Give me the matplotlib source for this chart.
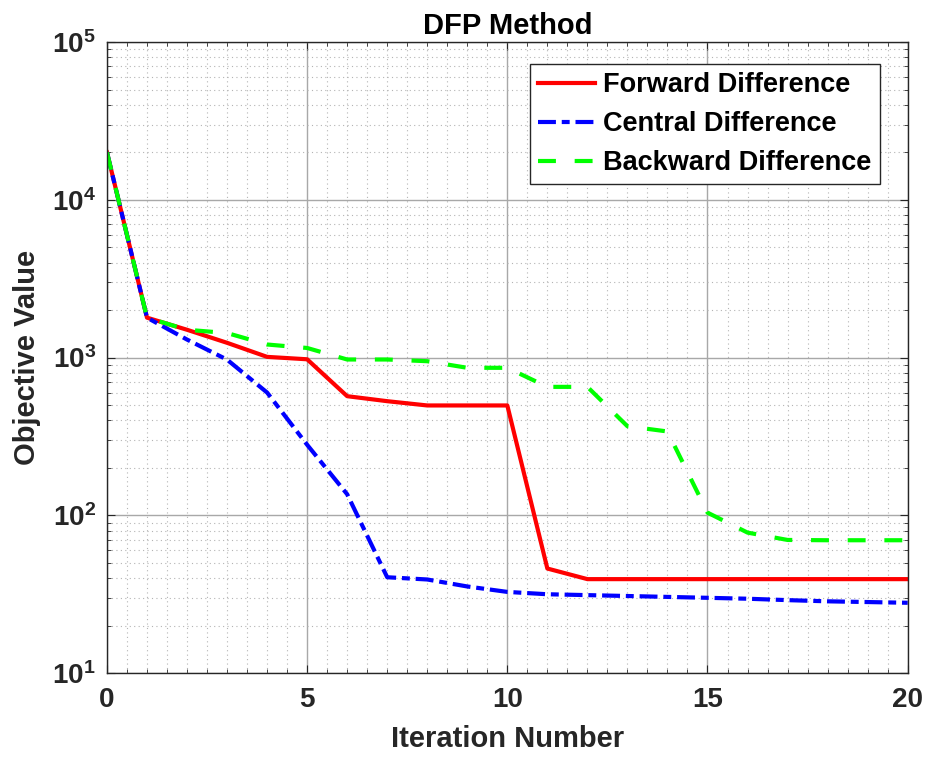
import numpy as np
import matplotlib
matplotlib.use("Agg")
import matplotlib.pyplot as plt
from matplotlib.ticker import LogLocator, MultipleLocator, FuncFormatter, NullFormatter

plt.rcParams['font.family'] = ['Liberation Sans', 'DejaVu Sans']
plt.rcParams['font.weight'] = 'bold'
plt.rcParams['mathtext.fontset'] = 'custom'
plt.rcParams['mathtext.rm'] = 'Liberation Sans:bold'
plt.rcParams['mathtext.bf'] = 'Liberation Sans:bold'

iterations = np.arange(0, 21)
forward = [20000, 1790, 1500, 1240, 1010, 975, 569, 529, 497, 497, 497,
           46, 39.4, 39.4, 39.4, 39.4, 39.4, 39.4, 39.4, 39.4, 39.4]
central = [20000, 1790, 1300, 970, 600, 280, 136, 40.5, 39.2, 35.4, 32.7,
           31.6, 31.2, 30.8, 30.4, 30.0, 29.6, 29.0, 28.5, 28.2, 27.9]
backward = [20000, 1790, 1500, 1430, 1210, 1150, 972, 972, 948, 861, 861,
            652, 652, 367, 340, 104, 77.7, 69.8, 69.5, 69.5, 69.5]

fig = plt.figure(figsize=(9.3, 7.64), dpi=100)
ax = fig.add_axes([0.115, 0.119, 0.861, 0.826])

ax.plot(iterations, forward, color='red', lw=3, label='Forward Difference')
ax.plot(iterations, central, color='blue', lw=3, dashes=(4.3, 1.4, 1.9, 1.4),
        label='Central Difference')
ax.plot(iterations, backward, color='#00ff00', lw=3, dashes=(4.3, 4.5),
        label='Backward Difference')

ax.set_yscale('log')
ax.set_xlim(0, 20)
ax.set_ylim(10, 1e5)
ax.xaxis.set_major_locator(MultipleLocator(5))
ax.xaxis.set_minor_locator(MultipleLocator(0.5))
ax.yaxis.set_major_locator(LogLocator(base=10, numticks=10))
ax.yaxis.set_minor_locator(LogLocator(base=10, subs=np.arange(2, 10), numticks=20))
ax.yaxis.set_major_formatter(FuncFormatter(lambda v, p: r'$\mathbf{10^{%d}}$' % round(np.log10(v))))
ax.yaxis.set_minor_formatter(NullFormatter())

ax.grid(which='major', color='#a8a8a8', lw=1, ls='-')
ax.grid(which='minor', color='#b4b4b4', lw=0.8, ls=(0, (1, 3)))
ax.set_axisbelow(True)

ax.tick_params(which='both', direction='in', top=True, right=True, colors='#262626',
               labelcolor='#262626')
ax.tick_params(which='major', length=6, labelsize=20)
ax.tick_params(axis='x', which='major', pad=10)
ax.tick_params(axis='y', which='major', pad=8)
ax.tick_params(which='minor', length=3)
for s in ax.spines.values():
    s.set_color('#262626')
    s.set_linewidth(1)

ax.set_xlabel('Iteration Number', fontsize=21, fontweight='bold', color='#262626',
              labelpad=9)
ax.set_ylabel('Objective Value', fontsize=21, fontweight='bold', color='#262626',
              labelpad=8)
ax.set_title('DFP Method', fontsize=21, fontweight='bold', pad=6)

leg = ax.legend(loc='upper right', bbox_to_anchor=(0.965, 0.965), fontsize=19.5,
                handlelength=2.1, handletextpad=0.3, borderpad=0.3, labelspacing=0.48,
                fancybox=False, framealpha=1, borderaxespad=0)
leg.get_frame().set_edgecolor('#262626')
leg.get_frame().set_linewidth(1)

fig.savefig('out.png', dpi=100)
